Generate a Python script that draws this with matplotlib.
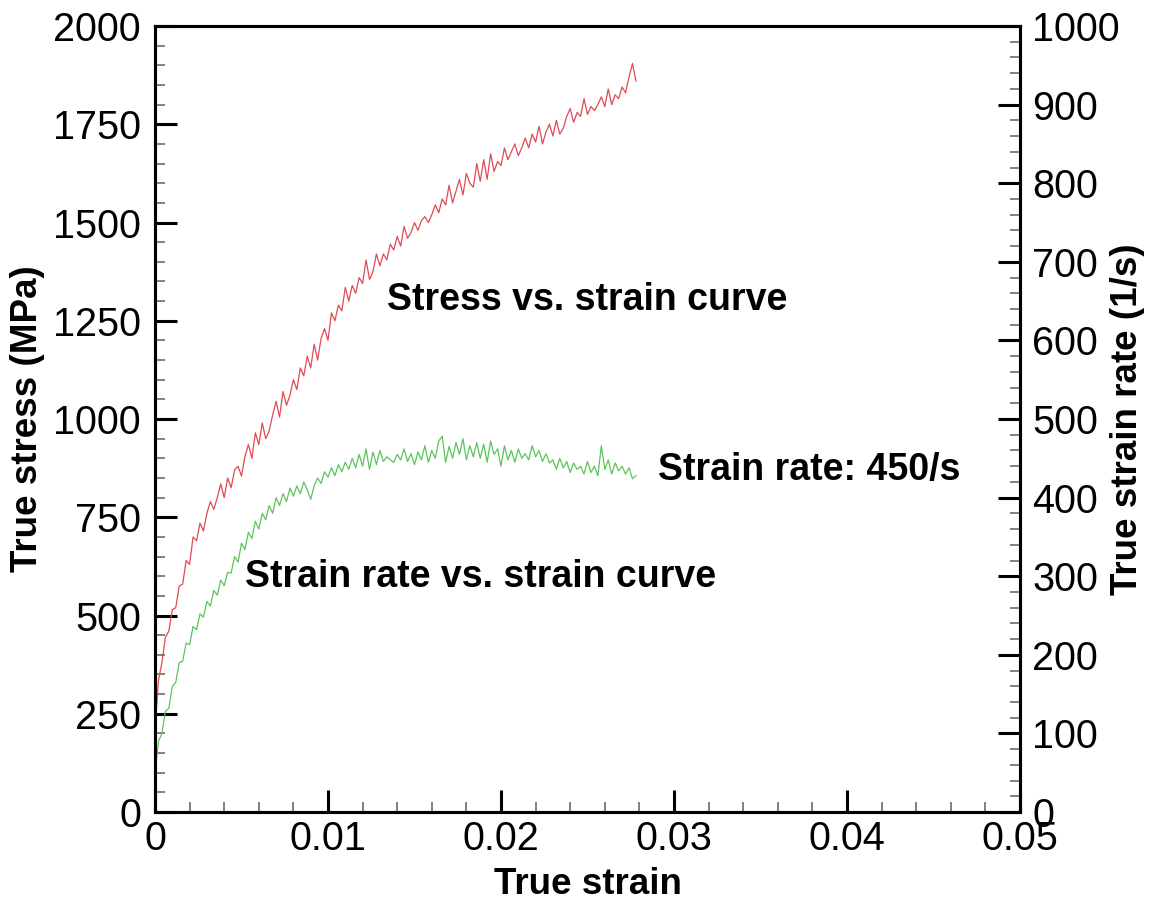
import numpy as np
import matplotlib
matplotlib.use("Agg")
import matplotlib.pyplot as plt
from matplotlib.ticker import MultipleLocator

plt.rcParams['font.family'] = ['Liberation Sans', 'DejaVu Sans']

# strain sampling grid (step 0.0002)
strain = np.round(np.arange(140) * 0.0002, 4)

stress = [
    210, 335, 380, 445, 460, 515, 520, 575, 580, 640,
    630, 700, 690, 735, 715, 760, 790, 770, 800, 835,
    800, 850, 825, 870, 880, 855, 905, 935, 900, 965,
    935, 990, 950, 970, 1010, 1045, 1005, 1070, 1035, 1060,
    1100, 1075, 1130, 1110, 1160, 1130, 1190, 1150, 1205, 1230,
    1200, 1270, 1250, 1290, 1275, 1335, 1300, 1340, 1320, 1360,
    1345, 1405, 1355, 1375, 1420, 1390, 1420, 1405, 1445, 1430,
    1465, 1440, 1490, 1460, 1475, 1500, 1480, 1505, 1515, 1500,
    1520, 1545, 1525, 1560, 1545, 1595, 1550, 1580, 1610, 1570,
    1625, 1600, 1590, 1650, 1605, 1660, 1610, 1675, 1630, 1655,
    1645, 1690, 1660, 1680, 1700, 1670, 1690, 1715, 1690, 1725,
    1705, 1745, 1700, 1730, 1750, 1720, 1760, 1725, 1740, 1770,
    1790, 1755, 1780, 1770, 1815, 1775, 1795, 1785, 1800, 1820,
    1795, 1840, 1800, 1825, 1815, 1845, 1830, 1870, 1905, 1860,
]

strain_rate = [
    50, 90, 100, 128, 132, 160, 165, 190, 192, 215,
    213, 236, 232, 252, 248, 268, 262, 282, 276, 295,
    288, 305, 304, 325, 318, 342, 334, 356, 348, 370,
    360, 380, 372, 390, 380, 400, 390, 405, 395, 412,
    402, 415, 405, 420, 410, 398, 415, 425, 418, 433,
    426, 438, 428, 442, 433, 445, 436, 450, 438, 455,
    440, 462, 436, 458, 442, 460, 446, 452, 448, 445,
    455, 448, 462, 446, 456, 442, 458, 448, 466, 445,
    460, 450, 472, 478, 445, 465, 450, 470, 455, 475,
    448, 466, 452, 470, 450, 468, 445, 472, 455, 462,
    440, 466, 448, 460, 445, 462, 450, 456, 448, 466,
    452, 460, 446, 456, 444, 448, 436, 450, 438, 446,
    432, 444, 436, 440, 430, 446, 432, 440, 428, 466,
    436, 448, 430, 444, 434, 440, 430, 438, 424, 428,
]

x_ticklabels = ['0', '0.01', '0.02', '0.03', '0.04', '0.05']

fig = plt.figure(figsize=(11.55, 9.07), dpi=100)
ax = fig.add_axes([0.1342, 0.1047, 0.7489, 0.8666])
ax2 = ax.twinx()

ax.plot(strain, stress, color='#e04a55', lw=0.9)
ax2.plot(strain, strain_rate, color='#5cc45c', lw=0.9)

ax.set_xlim(0, 0.05)
ax.set_ylim(0, 2000)
ax2.set_ylim(0, 1000)

ax.set_xticks(np.arange(6) * 0.01)
ax.set_xticklabels(x_ticklabels)
ax.xaxis.set_minor_locator(MultipleLocator(0.002))
ax.yaxis.set_major_locator(MultipleLocator(250))
ax.yaxis.set_minor_locator(MultipleLocator(50))
ax2.yaxis.set_major_locator(MultipleLocator(100))
ax2.yaxis.set_minor_locator(MultipleLocator(20))

for a in (ax, ax2):
    for s in a.spines.values():
        s.set_linewidth(2.2)

ax.tick_params(which='major', direction='in', length=16, width=2.2, labelsize=28.5,
               top=False, right=False, pad=10, color='black')
ax.tick_params(which='minor', direction='in', length=7, width=1.3, top=False, right=False,
               color='#777777')
ax.tick_params(axis='x', which='major', pad=6)
ax2.tick_params(which='major', direction='in', length=16, width=2.2, labelsize=28.5,
                pad=9, color='black')
ax2.tick_params(which='minor', direction='in', length=7, width=1.3, color='#777777')

lab_fs = 26.5
ax.set_xlabel('True strain', fontsize=lab_fs, fontweight='bold', labelpad=6)
ax.set_ylabel('True stress (MPa)', fontsize=lab_fs, fontweight='bold', labelpad=6)
ax2.set_ylabel('True strain rate (1/s)', fontsize=lab_fs, fontweight='bold', labelpad=-7)

ax.text(0.0134, 1303, 'Stress vs. strain curve', fontsize=27, fontweight='bold', va='center')
ax.text(0.0291, 870, 'Strain rate: 450/s', fontsize=27, fontweight='bold', va='center')
ax.text(0.0052, 598, 'Strain rate vs. strain curve', fontsize=27, fontweight='bold', va='center')

fig.savefig('out.png', dpi=100)
